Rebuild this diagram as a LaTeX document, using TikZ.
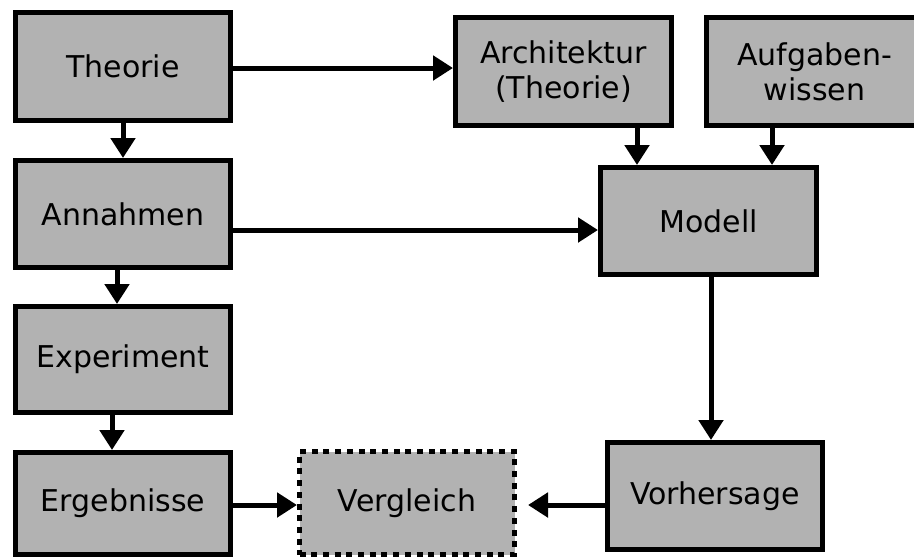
\documentclass[tikz,border=0pt]{standalone}
\usepackage{fontspec}
\setmainfont{DejaVu Sans}
\usetikzlibrary{arrows.meta}

\definecolor{kastengrau}{RGB}{178,178,178}

\tikzset{
  kasten/.style={draw=black, line width=5pt, fill=kastengrau, minimum width=215pt,
    minimum height=107pt, inner sep=0pt, align=center,
    font=\fontsize{30}{35}\selectfont},
  offen/.style={kasten, dash pattern=on 6pt off 5.7pt},
  pfeil/.style={line width=5pt, -{Triangle[length=20pt,width=24pt]}}
}

\begin{document}
\begin{tikzpicture}[x=1pt, y=-1pt]
  \clip (0,0) rectangle (914,558);
  \useasboundingbox (0,0) rectangle (914,558);

  % Left column:
  \node[kasten, minimum height=108pt] (theorie) at (123,66.5) {Theorie};
  \node[kasten] (annahmen) at (123,214) {Annahmen};
  \node[kasten, minimum height=106pt] (experiment) at (123,359.5) {Experiment};
  \node[kasten, minimum height=102pt] (ergebnisse) at (123,503.5) {Ergebnisse};

  % Right side:
  \node[kasten, minimum width=216pt, minimum height=108pt] (architektur) at (563.5,71.5) {Architektur\\(Theorie)};
  \node[kasten, minimum width=216pt, minimum height=108pt] (aufgaben) at (814.5,71.5) {Aufgaben-\\wissen};
  \node[kasten, minimum width=216pt] (modell) at (708.5,221) {Modell};
  \node[kasten] (vorhersage) at (715,496) {Vorhersage};
  \node[offen, minimum height=103pt] (vergleich) at (407,503) {Vergleich};

  % Arrows:
  \draw[pfeil] ([yshift=-1.5pt]theorie.east) -- ([yshift=-1.5pt]theorie.east -| architektur.west);
  \draw[pfeil] (theorie.south) -- (annahmen.north);
  \draw[pfeil] ([xshift=-6pt]annahmen.south) -- ([xshift=-6pt]annahmen.south |- experiment.north);
  \draw[pfeil] ([xshift=-11pt]experiment.south) -- ([xshift=-11pt]experiment.south |- ergebnisse.north);
  \draw[pfeil] ([yshift=-16pt]annahmen.east) -- ([yshift=-16pt]annahmen.east -| modell.west);
  \draw[pfeil] ([xshift=73.5pt]architektur.south) -- ([xshift=73.5pt]architektur.south |- modell.north);
  \draw[pfeil] ([xshift=-42.5pt]aufgaben.south) -- ([xshift=-42.5pt]aufgaben.south |- modell.north);
  \draw[pfeil] ([xshift=2.5pt]modell.south) -- ([xshift=2.5pt]modell.south |- vorhersage.north);
  \draw[pfeil] ([yshift=-1.5pt]ergebnisse.east) -- ([yshift=-1.5pt]ergebnisse.east -| vergleich.west);
  \draw[pfeil, shorten >=11pt] ([yshift=-9pt]vorhersage.west) -- ([yshift=-9pt]vorhersage.west -| vergleich.east);
\end{tikzpicture}
\end{document}
